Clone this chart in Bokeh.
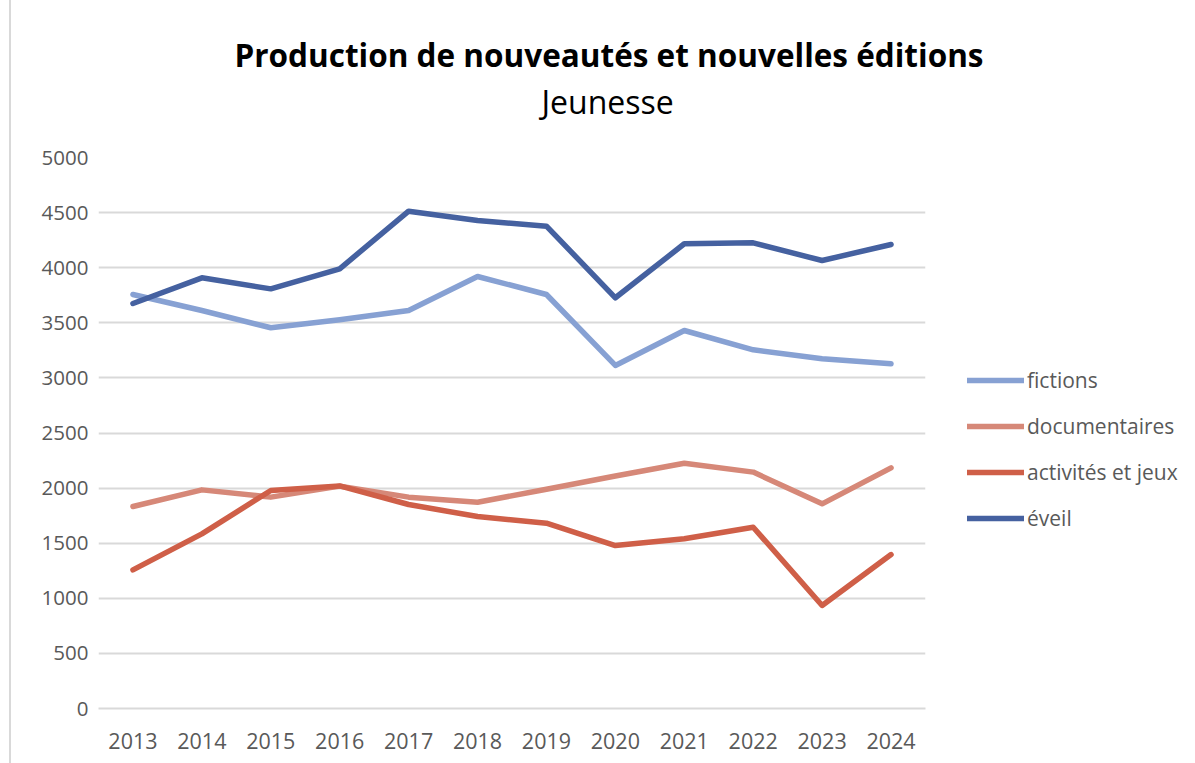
from bokeh.plotting import figure
from bokeh.models import (Range1d, FixedTicker, Legend, LegendItem, Title)
from bokeh.embed import file_html
from bokeh.resources import INLINE

years = [2013, 2014, 2015, 2016, 2017, 2018, 2019, 2020, 2021, 2022, 2023, 2024]
fictions = [3757, 3612, 3455, 3527, 3612, 3920, 3757, 3113, 3430, 3255, 3173, 3128]
documentaires = [1833, 1984, 1918, 2018, 1918, 1872, 1990, 2110, 2225, 2145, 1857, 2184]
activites = [1258, 1585, 1978, 2020, 1851, 1742, 1682, 1479, 1540, 1645, 935, 1397]
eveil = [3675, 3908, 3808, 3990, 4513, 4428, 4377, 3727, 4217, 4226, 4065, 4211]
y_ticks = [0, 500, 1000, 1500, 2000, 2500, 3000, 3500, 4000, 4500, 5000]

series = [
    ("fictions", fictions, "#87A1D3"),
    ("documentaires", documentaires, "#D68878"),
    ("activités et jeux", activites, "#CF5F48"),
    ("éveil", eveil, "#4561A0"),
]

FONT = "Open Sans"
GRAY = "#595959"

p = figure(frame_width=827, frame_height=551, output_backend="svg", toolbar_location=None,
           x_range=Range1d(2012.5, 2024.5), y_range=Range1d(0, 5000),
           min_border_left=87, min_border_right=270, min_border_top=157,
           min_border_bottom=55)
p.styles = {"margin-left": "9px", "border-left": "2px solid #D9D9D9"}
p.outline_line_color = None
p.background_fill_color = "white"
p.border_fill_color = "white"

p.xaxis.ticker = FixedTicker(ticks=years)
p.yaxis.ticker = FixedTicker(ticks=y_ticks)
for ax in (p.xaxis, p.yaxis):
    ax.major_tick_line_color = None
    ax.minor_tick_line_color = None
    ax.major_label_text_color = GRAY
    ax.major_label_text_font = FONT
p.yaxis.major_label_text_font_size = "20.5px"
p.xaxis.major_label_text_font_size = "21.5px"
p.yaxis.axis_line_color = None
p.yaxis.major_label_standoff = 4
p.xaxis.axis_line_color = "#D9D9D9"
p.xaxis.axis_line_width = 2
p.xaxis.major_label_standoff = 18

p.xgrid.grid_line_color = None
p.ygrid.grid_line_color = "#D9D9D9"
p.ygrid.grid_line_width = 2

items = []
for name, vals, col in series:
    r = p.line(years, vals, line_color=col, line_width=5.5, line_cap="round", line_join="round")
    items.append(LegendItem(label=name, renderers=[r]))

legend = Legend(items=items, location=(42, 176), orientation="vertical",
                border_line_color=None, background_fill_alpha=0,
                padding=0, margin=0, spacing=18, glyph_width=57, glyph_height=20,
                label_height=20, label_standoff=3,
                label_text_font=FONT, label_text_font_size="21px",
                label_text_color=GRAY)
p.add_layout(legend, "right")

sub = Title(text="Jeunesse", align="left", offset=443,
            text_font=FONT, text_font_style="normal", text_font_size="32px",
            text_color="black", standoff=70)
title = Title(text="Production de nouveautés et nouvelles éditions", align="left",
              offset=136, text_font=FONT, text_font_style="bold",
              text_font_size="31.5px", text_color="black", standoff=-66)
p.add_layout(sub, "above")
p.add_layout(title, "above")

open("out.html", "w").write(file_html(p, INLINE))
